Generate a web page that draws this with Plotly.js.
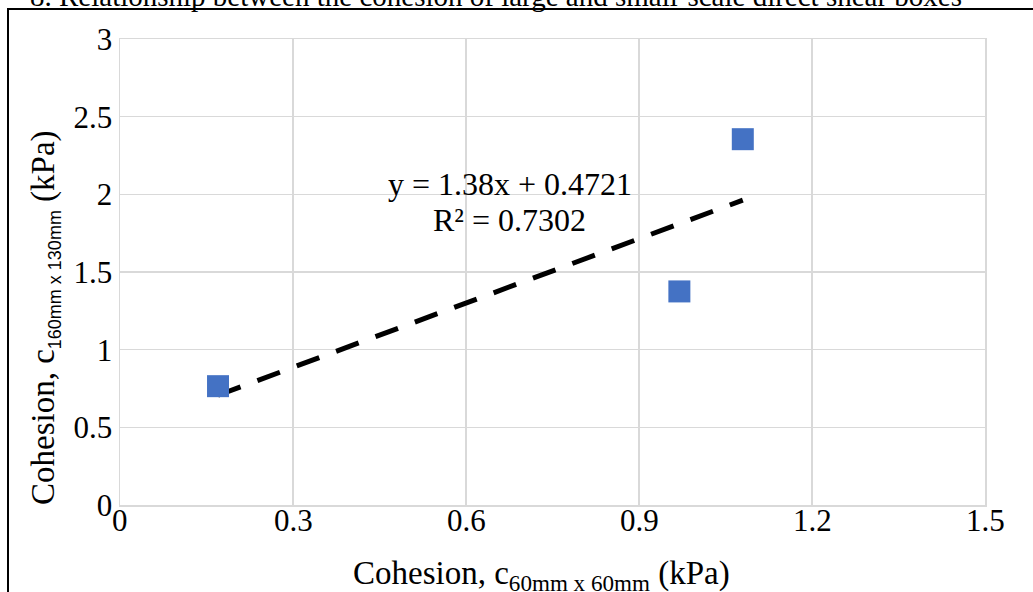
<!DOCTYPE html>
<html>
<head>
<meta charset="utf-8">
<script src="https://cdn.plot.ly/plotly-3.0.1.min.js"></script>
<style>
html,body{margin:0;padding:0;background:#fff;}
#wrap{position:relative;width:1033px;height:592px;overflow:hidden;}
#chart{width:1033px;height:592px;}
#frame{position:absolute;left:7px;top:8px;width:1040px;height:600px;border-left:2px solid #000;border-top:2px solid #000;pointer-events:none;}
</style>
</head>
<body>
<div id="wrap"><div id="chart"></div><div id="frame"></div></div>
<script>
// Data
const cohesionSmall = [0.17, 0.97, 1.08];   // c 60mm x 60mm (kPa)
const cohesionLarge = [0.765, 1.375, 2.355]; // c 160mm x 130mm (kPa)
const trendSlope = 1.38;
const trendIntercept = 0.4721;
const trendLabel = "y = 1.38x + 0.4721";
const r2Label = "R² = 0.7302";
const xTicks = [0, 0.3, 0.6, 0.9, 1.2, 1.5];
const yTicks = [0, 0.5, 1, 1.5, 2, 2.5, 3];
const captionText = "8. Relationship between the cohesion of large and small-scale direct shear boxes";

const xMin = Math.min(...cohesionSmall), xMax = Math.max(...cohesionSmall);
const trendX = [xMin, xMax];
const trendY = trendX.map(v => trendSlope * v + trendIntercept);

const serif = "Liberation Serif, Times New Roman, serif";
const gridC = "#d9d9d9";

const traces = [
  {x: trendX, y: trendY, type: "scatter", mode: "lines",
   line: {color: "#000", width: 5, dash: "24px,18px"}, hoverinfo: "skip"},
  {x: cohesionSmall, y: cohesionLarge, type: "scatter", mode: "markers",
   marker: {symbol: "square", size: 22, color: "#4472C4"}}
];

// x tick labels placed as annotations (tied to the x axis values)
const xTickAnns = xTicks.map(v => ({
  text: String(v), x: v, xref: "x", yref: "paper", y: (505 - 520) / 466,
  xanchor: "center", yanchor: "middle", showarrow: false,
  font: {family: serif, size: 31, color: "#000"}
}));

const layout = {
  width: 1033, height: 592,
  margin: {l: 120, r: 48, t: 39, b: 87},
  paper_bgcolor: "#fff", plot_bgcolor: "#fff",
  showlegend: false,
  font: {family: serif, size: 31, color: "#000"},
  xaxis: {range: [0, 1.5], tickvals: xTicks, showticklabels: false,
    showgrid: true, gridcolor: gridC, gridwidth: 1.5, zeroline: false,
    showline: true, linecolor: gridC, linewidth: 1.5, mirror: true, ticks: ""},
  yaxis: {range: [0, 3], tickvals: yTicks, ticktext: yTicks.map(String),
    showgrid: true, gridcolor: gridC, gridwidth: 1.5, zeroline: false,
    showline: true, linecolor: gridC, linewidth: 1.5, mirror: true,
    ticks: "", tickfont: {family: serif, size: 31}},
  annotations: xTickAnns.concat([
    {text: trendLabel, x: 0.676, y: 2.065, xref: "x", yref: "y", showarrow: false,
     xanchor: "center", yanchor: "middle",
     font: {family: serif, size: 32, color: "#000"}},
    {text: r2Label, x: 0.676, y: 1.835, xref: "x", yref: "y", showarrow: false,
     xanchor: "center", yanchor: "middle",
     font: {family: serif, size: 32, color: "#000"}},
    {text: "Cohesion, c<sub>60mm x 60mm</sub> (kPa)", xref: "paper", yref: "paper",
     x: (541 - 120) / 865, y: (505 - 575) / 466, showarrow: false,
     xanchor: "center", yanchor: "middle",
     font: {family: serif, size: 33, color: "#000"}},
    {text: "Cohesion, c<sub><span style='font-family:Liberation Sans, Arial, sans-serif;font-size:18px'>160mm x 130mm</span></sub> (kPa)",
     xref: "paper", yref: "paper", textangle: -90,
     x: (45 - 120) / 865, y: (505 - 318) / 466, showarrow: false,
     xanchor: "center", yanchor: "middle",
     font: {family: serif, size: 33, color: "#000"}},
    {text: captionText, xref: "paper", yref: "paper", xanchor: "left", yanchor: "middle",
     x: (28 - 120) / 865, y: (505 + 4) / 466, showarrow: false,
     font: {family: serif, size: 29, color: "#000"}}
  ])
};

Plotly.newPlot("chart", traces, layout, {displayModeBar: false, staticPlot: true});
</script>
</body>
</html>
